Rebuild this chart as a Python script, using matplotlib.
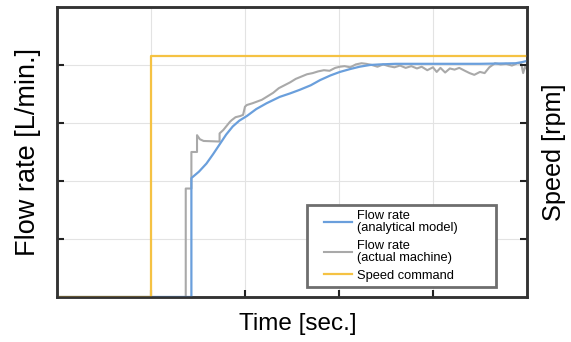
import matplotlib
matplotlib.use("Agg")
import matplotlib.pyplot as plt
from matplotlib.lines import Line2D
from matplotlib.legend_handler import HandlerLine2D

plt.rcParams["font.family"] = ["Liberation Sans", "DejaVu Sans"]

# analytical model response
blue_t = [0, 1.43, 1.43, 1.51, 1.59, 1.66, 1.73, 1.80, 1.87, 1.94, 2.02, 2.12, 2.23, 2.37, 2.48,
          2.58, 2.70, 2.80, 2.91, 3.01, 3.12, 3.22, 3.33, 3.44, 3.60, 4.00, 4.50, 4.88, 4.95, 5.0]
blue_y = [0, 0, 2.05, 2.16, 2.30, 2.46, 2.63, 2.80, 2.94, 3.04, 3.12, 3.24, 3.34, 3.45, 3.51,
          3.57, 3.65, 3.74, 3.82, 3.88, 3.93, 3.97, 4.00, 4.01, 4.02, 4.02, 4.02, 4.03, 4.05, 4.07]

# measured on the actual machine
gray_t = [0, 1.37, 1.37, 1.43, 1.43, 1.49, 1.49, 1.52, 1.56, 1.73, 1.73, 1.77, 1.80, 1.84, 1.86,
          1.90, 1.95, 1.98, 2.00, 2.02, 2.08, 2.13, 2.18, 2.23, 2.30, 2.36, 2.42, 2.48, 2.54, 2.60,
          2.66, 2.72, 2.78, 2.84, 2.90, 2.96, 3.01, 3.06, 3.12, 3.18, 3.24, 3.29, 3.35, 3.41, 3.47,
          3.53, 3.59, 3.65, 3.71, 3.77, 3.83, 3.88, 3.94, 4.00, 4.04, 4.08, 4.13, 4.18, 4.23, 4.28,
          4.34, 4.39, 4.44, 4.50, 4.55, 4.60, 4.66, 4.72, 4.78, 4.84, 4.90, 4.94, 4.96, 4.98, 5.0]
gray_y = [0, 0, 1.87, 1.87, 2.50, 2.50, 2.79, 2.72, 2.69, 2.68, 2.82, 2.88, 2.94, 3.02, 3.05,
          3.10, 3.12, 3.14, 3.28, 3.31, 3.34, 3.37, 3.40, 3.45, 3.52, 3.60, 3.65, 3.70, 3.76, 3.80,
          3.84, 3.86, 3.89, 3.91, 3.90, 3.95, 3.97, 3.98, 3.96, 4.01, 4.03, 4.02, 4.00, 3.97, 4.01,
          3.98, 3.96, 3.99, 3.95, 3.98, 3.94, 3.97, 3.91, 3.96, 3.88, 3.95, 3.87, 3.94, 3.92, 3.95,
          3.90, 3.86, 3.83, 3.88, 3.86, 3.96, 4.03, 4.01, 4.02, 3.99, 4.03, 4.02, 3.86, 3.97, 3.93]

# speed command step
speed_t = [0, 1.0, 1.0, 5.0]
speed_y = [0, 0, 4.16, 4.16]

grid_ticks = [1, 2, 3, 4]

fig = plt.figure(figsize=(5.71, 3.42), dpi=100)
ax = fig.add_axes([0.0998, 0.1316, 0.823, 0.848])
ax2 = ax.twinx()

l_blue, = ax.plot(blue_t, blue_y, color="#6a9fdc", lw=1.6, zorder=3,
                  label="Flow rate\n(analytical model)")
l_gray, = ax.plot(gray_t, gray_y, color="#a9a9a9", lw=1.5, zorder=2,
                  label="Flow rate\n(actual machine)")
l_speed, = ax2.plot(speed_t, speed_y, color="#f5c243", lw=1.6, label="Speed command")

for a in (ax, ax2):
    a.set_xlim(0, 5)
    a.set_ylim(0, 5)
ax.set_xticks(grid_ticks)
ax.set_yticks(grid_ticks)
ax2.set_yticks(grid_ticks)
ax.set_xticklabels([])
ax.set_yticklabels([])
ax2.set_yticklabels([])
ax.grid(True, color="#e3e3e3", lw=0.8)
ax.set_axisbelow(True)
ax.tick_params(direction="in", length=5, width=1.5, color="#222222")
ax2.tick_params(direction="in", length=5, width=1.5, color="#222222")
for a in (ax, ax2):
    for sp in a.spines.values():
        sp.set_linewidth(1.8)
        sp.set_color("#333333")

ax.set_xlabel("Time [sec.]", fontsize=17.5)
ax.xaxis.set_label_coords(0.513, -0.055, transform=ax.transAxes)
ax.xaxis.label.set_va("top")
ax.set_ylabel("Flow rate [L/min.]", fontsize=19.5, labelpad=8)
ax2.set_ylabel("Speed [rpm]", fontsize=18.2, labelpad=7)

leg = ax2.legend(handles=[l_blue, l_gray, l_speed], loc="lower left",
                 bbox_to_anchor=(0.532, 0.034, 0.402, 0.29), mode="expand",
                 fontsize=9.3, handlelength=3.1, handletextpad=0.4, borderpad=0.4,
                 labelspacing=0.45, borderaxespad=0, fancybox=False, framealpha=1,
                 edgecolor="#6e6e6e", handler_map={Line2D: HandlerLine2D(xpad=0.9)})
leg.get_frame().set_linewidth(2)
for t in leg.get_texts():
    t.set_linespacing(1.0)

fig.savefig("out.png", dpi=100)
